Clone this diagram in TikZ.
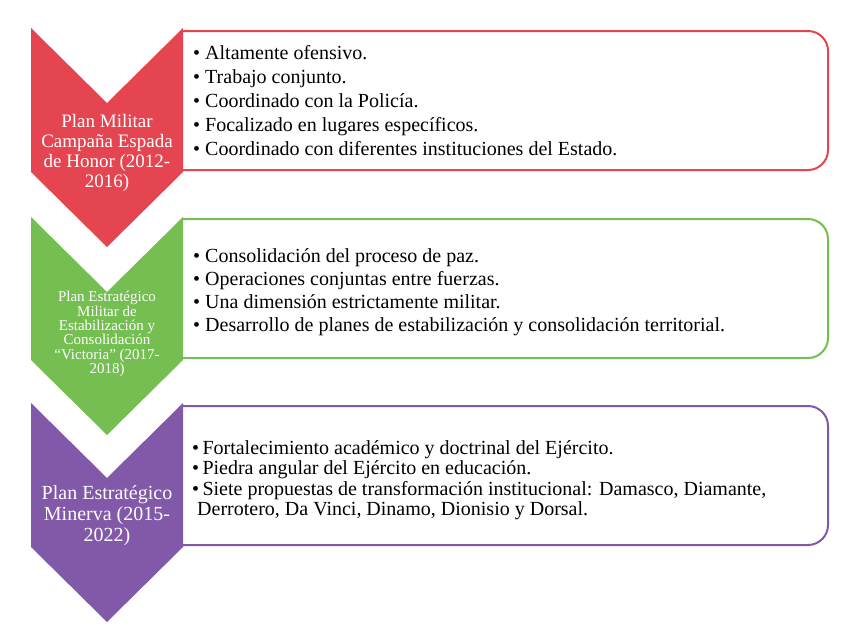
\documentclass[tikz,border=0pt]{standalone}
\usepackage{fontspec}
\setmainfont{Liberation Serif}
\definecolor{rojo}{RGB}{228,69,80}
\definecolor{verde}{RGB}{116,190,82}
\definecolor{morado}{RGB}{130,88,168}
\tikzset{
  caja/.style={draw=#1, line width=2pt, rounded corners=20pt},
  titulo/.style={text=white, align=center, inner sep=0pt},
  item/.style={anchor=base west, inner sep=0pt, font=\fontsize{20}{22}\selectfont},
}

\begin{document}
\begin{tikzpicture}[x=1pt,y=-1pt]
		\useasboundingbox (0,0) rectangle (849,635);
		% cajas
		\draw[caja=rojo] (183,31) -- (828,31) -- (828,170) -- (183,170);
		\draw[caja=verde] (183,219) -- (828,219) -- (828,358) -- (183,358);
		\draw[caja=morado] (183,406) -- (828,406) -- (828,545) -- (183,545);
		% flechas
		\fill[rojo] (31,28) -- (107,103) -- (183,28) -- (183,172) -- (107,247) -- (31,172) -- cycle;
		\fill[verde] (31,217) -- (107,292) -- (183,217) -- (183,360) -- (107,435) -- (31,360) -- cycle;
		\fill[morado] (31,403) -- (107,478) -- (183,403) -- (183,547) -- (107,622) -- (31,547) -- cycle;
		% titulos
		\node[titulo, font=\fontsize{19}{20}\selectfont] (plan1) at (107,153) {Plan Militar\\Campaña Espada\\de Honor (2012-\\2016)};
		\node[titulo, font=\fontsize{15}{14.3}\selectfont] (plan2) at (107,334) {Plan Estratégico\\Militar de\\Estabilización y\\Consolidación\\``Victoria'' (2017-\\2018)};
		\node[titulo, font=\fontsize{20}{21}\selectfont] (plan3) at (107,516) {Plan Estratégico\\Minerva (2015-\\2022)};
		% listas
		\foreach \t [count=\i] in {Altamente ofensivo., Trabajo conjunto., Coordinado con la Policía., Focalizado en lugares específicos., Coordinado con diferentes instituciones del Estado.}
			\node[item] (r\i) at (193,35+24*\i) {\textbullet\ \t};
		\foreach \t [count=\i] in {Consolidación del proceso de paz., Operaciones conjuntas entre fuerzas., Una dimensión estrictamente militar., Desarrollo de planes de estabilización y consolidación territorial.}
			\node[item] (v\i) at (193,239+23*\i) {\textbullet\ \t};
		\node[item] (m1) at (192,454) {\textbullet\,Fortalecimiento académico y doctrinal del Ejército.};
		\node[item] (m2) at (192,474.5) {\textbullet\,Piedra angular del Ejército en educación.};
		\node[item] (m3) at (192,495) {\textbullet\,Siete propuestas de transformación institucional: Damasco, Diamante,};
		\node[item] (m4) at (197,515.5) {Derrotero, Da Vinci, Dinamo, Dionisio y Dorsal.};
	\end{tikzpicture}
\end{document}
